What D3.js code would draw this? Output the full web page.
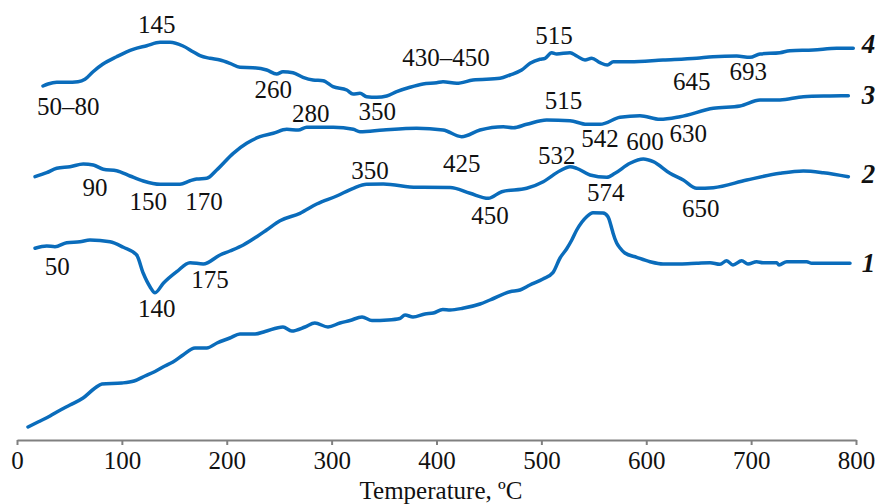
<!DOCTYPE html>
<html>
<head>
<meta charset="utf-8">
<script src="https://cdn.jsdelivr.net/npm/d3@7"></script>
<style>
  html, body { margin: 0; padding: 0; background: #fff; }
  svg { display: block; font-family: 'Liberation Serif', 'DejaVu Serif', serif; }
</style>
</head>
<body>
<div id="chart"></div>
<script>
// temperature (°C) and DTA signal (arbitrary units)
const temp1 = [10.5, 20, 31.5, 38, 50.5, 63, 74.4, 81, 100, 111.6, 122, 131.6, 141, 148.7, 158.3, 169.7, 181, 190.7, 203, 212.6, 227, 236.5, 253.6, 262, 274.6, 284, 296.5, 308, 317.5, 329, 338.5, 353.7, 365, 370, 377.6, 389, 397, 406, 413, 425, 441.5, 451, 470, 479.6, 489, 501.5, 511, 517.8, 524, 529, 533.7, 543.2, 549.2, 558.8, 563.5, 567, 568.3, 571.8, 575, 579.6, 590.9, 603.6, 616, 632.2, 648, 660.8, 670.3, 676.7, 682.7, 691, 697, 705.3, 711.3, 724.4, 726.6, 734, 753, 757.8, 794.3];
const sig1 = [13, 18, 24, 28, 35, 42, 52, 56, 57, 59, 64, 68.5, 74, 78, 85, 92, 92, 97, 102, 106, 106, 108.5, 113, 109, 113, 117, 113, 117, 119.5, 123, 119.5, 120, 121.5, 125, 123, 126, 127, 130.5, 130, 131.7, 136, 140, 148.3, 150, 155, 161, 167.3, 182, 191, 200, 210, 223.3, 227.3, 227, 223.3, 212, 207, 197, 192, 187, 182.7, 178.3, 176, 176, 176.7, 177.3, 175.7, 179.3, 175, 179.3, 176, 178.3, 177.3, 177.3, 175, 178.3, 178.3, 176.7, 176.7];

const temp2 = [17.2, 28.3, 36.2, 47.4, 60, 69.6, 88.7, 101.4, 114.1, 120.4, 126.8, 131.6, 139.5, 152.3, 165, 177.6, 193.6, 203, 215.8, 228.6, 238, 250.8, 269.8, 285.8, 304.8, 320.7, 333.4, 349.3, 381.1, 413, 432, 449.4, 462.2, 486, 501.8, 517.8, 527.3, 533.7, 546.4, 562.3, 570.2, 584.5, 597.2, 606.7, 622.6, 635.3, 648.1, 664, 695.8, 727.5, 749.8, 768.8, 792.7];
const sig2 = [191.7, 194, 193.3, 197.3, 198.3, 200, 198.3, 192.7, 185, 166.7, 153.3, 147.3, 156.7, 168.3, 177.3, 176, 185, 189, 195, 203.3, 210, 219.3, 226.7, 236, 244, 251.7, 255.7, 256, 252.7, 252.5, 246.7, 241.7, 248.3, 251.7, 258.3, 269.3, 273.3, 271.7, 265, 262.7, 266.7, 276.7, 281, 278.3, 266.7, 260, 251.7, 252.3, 260, 266.7, 269, 267.3, 263.3];

const temp3 = [17.2, 28.3, 37.9, 50.5, 63.2, 72.8, 82.3, 95, 107.7, 120.4, 136.4, 155.4, 165, 171.3, 180.9, 190.4, 206.2, 219, 231.7, 244.4, 257.2, 268.2, 276.2, 301.6, 320.7, 327, 349.3, 381.1, 406.2, 424, 441.5, 463.7, 473.2, 486, 505, 527.3, 543.2, 556, 575, 594, 613.1, 632.2, 664, 689.4, 708.5, 727.5, 749.8, 775.2, 792.7];
const sig3 = [263.3, 267.3, 271.7, 273.3, 276, 275, 270.7, 269.3, 264, 259, 255.7, 255.7, 259.3, 261, 261.7, 270, 286.7, 296.7, 303.3, 306.7, 310.7, 310, 312.7, 312.7, 310.7, 308.3, 310, 311.7, 310, 303.3, 310, 313.3, 312.3, 315.7, 320, 319.3, 315.7, 315.7, 322.7, 324.3, 320.7, 323.3, 331.7, 334, 340, 340, 343.3, 344, 344.3];

const temp4 = [24.8, 29.6, 37.9, 47.4, 58.2, 64.8, 72.5, 82, 95, 110.6, 123.7, 136.4, 145.9, 158.3, 167.8, 174.5, 184, 193.6, 203.1, 212.6, 225, 238.1, 247.6, 253.6, 263.2, 272.7, 282.2, 291.8, 301.3, 314.4, 320.4, 327, 333.4, 343, 352.5, 362, 374.7, 387.1, 400.2, 406.2, 419.3, 434.8, 460.5, 470, 481.2, 489.2, 498.7, 503.5, 509.8, 514.6, 527.3, 533.7, 541.6, 548, 555.9, 562.9, 568.6, 584.5, 616, 648.1, 663.6, 686.2, 698.9, 708.5, 727.5, 737, 759.3, 781.6, 797.4];
const sig4 = [354, 356, 357.7, 357.7, 358.3, 360.7, 368.3, 376, 383.3, 390.7, 394.3, 397.7, 397.7, 394, 388.3, 384.3, 381.7, 380, 376.7, 372.7, 372.3, 370, 366, 368.3, 367.3, 362.7, 360, 359.3, 353.3, 350, 346, 346.7, 343.3, 342.7, 344, 348.3, 352.7, 356, 357.3, 358.3, 356.7, 360, 361.7, 365, 370, 376.7, 380.7, 381.7, 387.3, 386, 387.3, 384, 380, 381.7, 377.3, 375, 378.3, 378.3, 380, 381.7, 383.3, 384, 382.7, 386, 387.3, 389.3, 390, 391.7, 391.7];

// peak labels: text, temperature, signal level
const peakText = ['145', '50–80', '260', '280', '350', '430–450', '515', '645', '693',
  '90', '150', '170', '515', '542', '600', '630',
  '350', '425', '532', '450', '574', '650',
  '50', '140', '175'];
const peakTemp = [133.2, 48.9, 244.4, 280, 343.5, 409, 512, 643.3, 697.3,
  74.4, 125.2, 178.3, 521, 555.9, 598.8, 640.1,
  336.6, 424, 514.6, 451, 561.3, 651.9,
  38.4, 133.2, 184];
const peakSig = [416, 334, 350.7, 326.7, 328.3, 382.3, 405, 359, 368.3,
  252.7, 238.3, 238.3, 340, 301.7, 298.3, 306.7,
  270, 276.7, 285, 225, 247.3, 231.7,
  173.3, 131.7, 160.7];

const curveNames = ['1', '2', '3', '4'];
const curveLabelSig = [177, 266, 345, 396];
const xTicks = [0, 100, 200, 300, 400, 500, 600, 700, 800];

const WIDTH = 877;
const HEIGHT = 504;
const BLUE = '#0a6cbb';

const svg = d3
  .select('#chart')
  .append('svg')
  .attr('width', WIDTH)
  .attr('height', HEIGHT);

const scaleX = d3.scaleLinear().domain([0, 800]).range([17, 856]);
const scaleY = d3.scaleLinear().domain([0, 440]).range([440, 0]);

// axis
const axisX = d3.axisBottom(scaleX).tickValues(xTicks).tickSize(5).tickSizeOuter(0);
const gAxis = svg
  .append('g')
  .attr('transform', `translate(0,${scaleY(0)})`)
  .call(axisX);
gAxis.select('.domain').attr('stroke', '#808080').attr('stroke-width', 2);
gAxis.selectAll('.tick line').attr('stroke', '#808080').attr('stroke-width', 2);
gAxis
  .selectAll('.tick text')
  .attr('y', 29)
  .attr('dy', null)
  .attr('fill', '#111')
  .style('font-family', "'Liberation Serif', serif")
  .style('font-size', '25px');

svg
  .append('text')
  .attr('x', 441)
  .attr('y', 499)
  .attr('text-anchor', 'middle')
  .attr('fill', '#111')
  .style('font-size', '25px')
  .text('Temperature, ºC');

// curves
const series = [
  { t: temp1, s: sig1 },
  { t: temp2, s: sig2 },
  { t: temp3, s: sig3 },
  { t: temp4, s: sig4 },
];
const line = d3
  .line()
  .x((d) => scaleX(d[0]))
  .y((d) => scaleY(d[1]))
  .curve(d3.curveMonotoneX);

svg
  .selectAll('path.curve')
  .data(series)
  .join('path')
  .attr('class', 'curve')
  .attr('d', (d) => line(d.t.map((t, i) => [t, d.s[i]])))
  .attr('fill', 'none')
  .attr('stroke', BLUE)
  .attr('stroke-width', 3.5)
  .attr('stroke-linejoin', 'round')
  .attr('stroke-linecap', 'round');

// peak temperatures
svg
  .selectAll('text.peak')
  .data(peakText)
  .join('text')
  .attr('class', 'peak')
  .attr('x', (d, i) => scaleX(peakTemp[i]))
  .attr('y', (d, i) => scaleY(peakSig[i]))
  .attr('dy', '0.35em')
  .attr('text-anchor', 'middle')
  .attr('fill', '#111')
  .style('font-size', '25px')
  .text((d) => d);

// curve numbers
svg
  .selectAll('text.curve-name')
  .data(curveNames)
  .join('text')
  .attr('class', 'curve-name')
  .attr('x', scaleX(812))
  .attr('y', (d, i) => scaleY(curveLabelSig[i]))
  .attr('dy', '0.35em')
  .attr('text-anchor', 'middle')
  .attr('fill', '#111')
  .style('font-size', '27px')
  .style('font-weight', 'bold')
  .style('font-style', 'italic')
  .text((d) => d);
</script>
</body>
</html>
